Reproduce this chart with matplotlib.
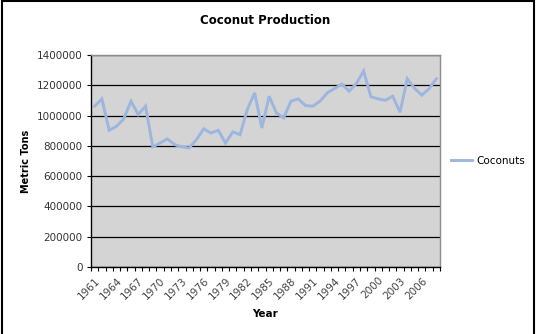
import matplotlib
matplotlib.use("Agg")
import matplotlib.pyplot as plt
from matplotlib.patches import Rectangle
from matplotlib.ticker import FixedLocator, NullFormatter

years = list(range(1961, 2009))
coconuts = [
    1062000, 1110000, 903000, 929000, 978000, 1095000, 1007000, 1062000,
    793000, 819000, 846000, 808000, 793000, 786000, 841000, 912000,
    885000, 903000, 819000, 892000, 874000, 1040000, 1150000, 918000,
    1128000, 1018000, 985000, 1095000, 1110000, 1066000, 1062000, 1095000,
    1150000, 1179000, 1208000, 1161000, 1212000, 1294000, 1124000, 1110000,
    1101000, 1128000, 1022000, 1243000, 1180000, 1135000, 1177000, 1243000,
]
y_ticks = [0, 200000, 400000, 600000, 800000, 1000000, 1200000, 1400000]
label_every = 3

fig = plt.figure(figsize=(5.36, 3.34), dpi=100)
fig.patch.set_facecolor("white")
ax = fig.add_axes([91 / 536, 67 / 334, 349 / 536, 212 / 334])
ax.set_facecolor("#d4d4d4")

n = len(years)
xpos = [i + 0.5 for i in range(n)]
ax.plot(xpos, coconuts, color="#9cb6e0", lw=2.1, solid_joinstyle="miter",
        label="Coconuts", zorder=3)

ax.set_xlim(0, n)
ax.set_ylim(0, 1400000)

# category boundaries carry the tick marks, labels sit at category centres
ax.xaxis.set_major_locator(FixedLocator(list(range(n + 1))))
ax.xaxis.set_major_formatter(NullFormatter())
label_pos = xpos[::label_every]
label_txt = [str(y) for y in years[::label_every]]
ax.xaxis.set_minor_locator(FixedLocator(label_pos))
ax.set_xticklabels(label_txt, minor=True, rotation=45, ha="right",
                   rotation_mode="anchor", fontsize=7.5, color="#444444")
ax.tick_params(axis="x", which="major", direction="out", length=3,
               width=0.8, color="black")
ax.tick_params(axis="x", which="minor", length=0, pad=6)

ax.set_yticks(y_ticks)
ax.set_yticklabels([str(v) for v in y_ticks], fontsize=7.5, color="#333333")
ax.tick_params(axis="y", direction="out", length=3, width=0.8, color="black",
               pad=3)

ax.grid(axis="y", color="black", lw=0.9, zorder=1)
ax.set_axisbelow(True)

for side in ("top", "right"):
    ax.spines[side].set_color("#8c8c8c")
    ax.spines[side].set_linewidth(1.0)
for side in ("left", "bottom"):
    ax.spines[side].set_color("black")
    ax.spines[side].set_linewidth(1.0)

ax.set_title("Coconut Production", fontsize=8.5, fontweight="bold", pad=22)
ax.set_xlabel("Year", fontsize=7.5, fontweight="bold", labelpad=6)
ax.set_ylabel("Metric Tons", fontsize=7, fontweight="bold", labelpad=4)

fig.legend(loc="center left", bbox_to_anchor=(442 / 536, 1 - 161 / 334),
           frameon=False, fontsize=7.5, handlelength=2.0, handletextpad=0.4)

# outer chart frame
fig.patches.append(Rectangle((2 / 536, -0.02), 532 / 536, 1.017,
                             transform=fig.transFigure, fill=False,
                             edgecolor="black", lw=1.5))

fig.savefig("out.png", dpi=100)
